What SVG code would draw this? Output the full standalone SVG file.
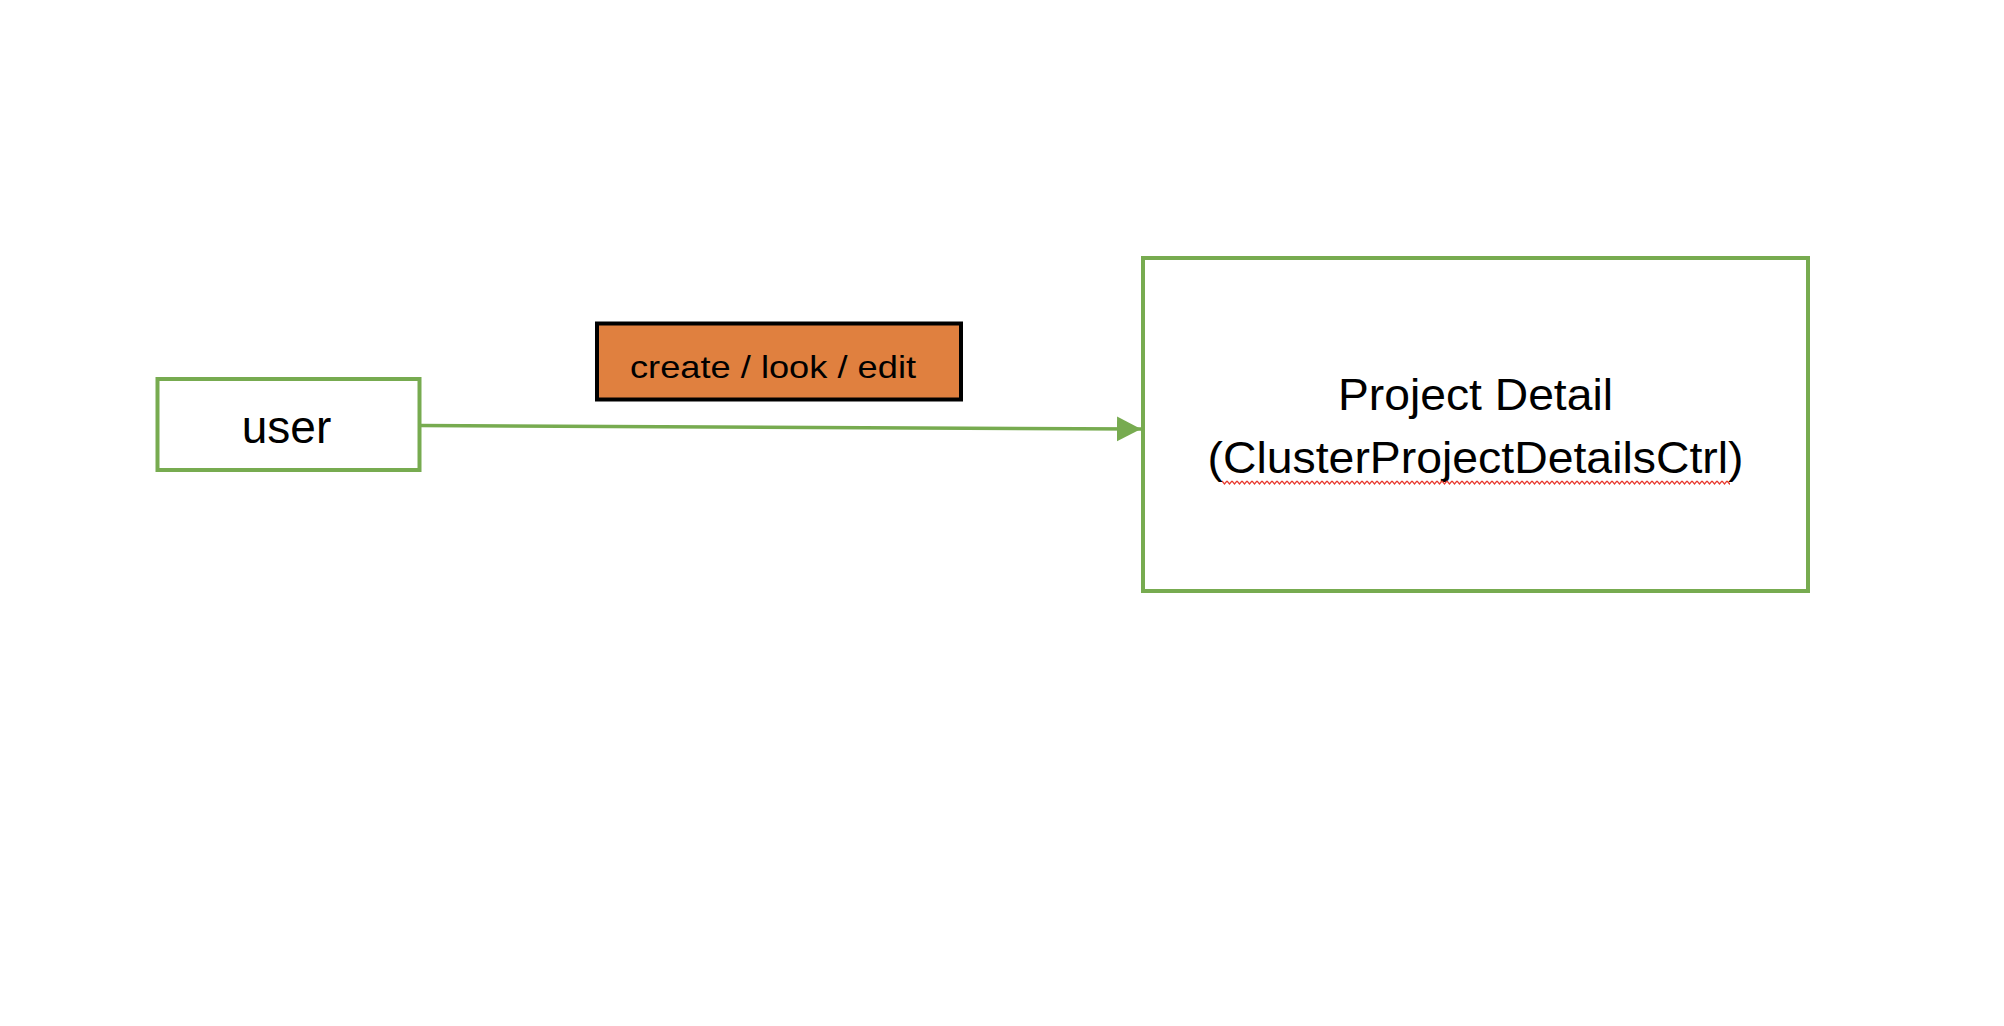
<svg xmlns="http://www.w3.org/2000/svg" width="2004" height="1026" viewBox="0 0 2004 1026">
<defs>
<style>
.node{fill:#fff;stroke:#77AB50;stroke-width:4}
.lbl{fill:#000;font-family:"Liberation Sans",Arial,sans-serif}
.conn{stroke:#77AB50;stroke-width:3.5;fill:none}
</style>
<marker id="arr" markerUnits="userSpaceOnUse" markerWidth="26" markerHeight="26" refX="24" refY="12.5" orient="auto">
<path d="M0,0 L24,12.5 L0,25 Z" fill="#77AB50"/>
</marker>
<pattern id="sq" patternUnits="userSpaceOnUse" x="1222" y="480" width="5" height="5">
<path d="M0,1 L2.5,4 L5,1" fill="none" stroke="#E8392E" stroke-width="1.2"/>
</pattern>
</defs>
<rect width="2004" height="1026" fill="#fff"/>
<g id="connectors">
<path class="conn" d="M420,425.5 L1141,429" marker-end="url(#arr)"/>
</g>
<g id="label-create">
<rect x="597" y="323.5" width="364" height="76" fill="#E0803F" stroke="#000" stroke-width="4"/>
<text class="lbl" x="630" y="378" font-size="32" textLength="286" lengthAdjust="spacingAndGlyphs">create / look / edit</text>
</g>
<g id="node-user">
<rect class="node" x="157.5" y="379" width="262" height="91"/>
<text class="lbl" x="286.5" y="443" font-size="46" text-anchor="middle">user</text>
</g>
<g id="node-project">
<rect class="node" x="1143" y="258" width="665" height="333"/>
<text class="lbl" x="1475.5" y="410" font-size="44" text-anchor="middle" textLength="275" lengthAdjust="spacingAndGlyphs">Project Detail</text>
<text class="lbl" x="1475.5" y="473" font-size="44" text-anchor="middle" textLength="536" lengthAdjust="spacingAndGlyphs">(ClusterProjectDetailsCtrl)</text>
<rect x="1222" y="480" width="508" height="5" fill="url(#sq)"/>
</g>
</svg>
